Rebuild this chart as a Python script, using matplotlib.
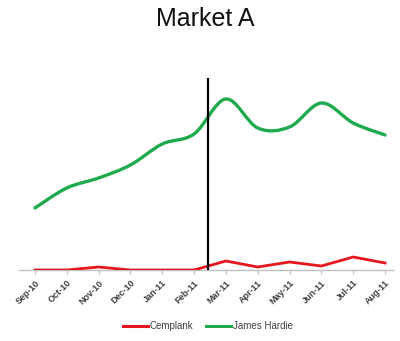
import matplotlib
matplotlib.use("Agg")
import matplotlib.pyplot as plt
from matplotlib.path import Path
from matplotlib.patches import PathPatch
from matplotlib.lines import Line2D
import numpy as np

plt.rcParams['font.family'] = ['Liberation Sans', 'DejaVu Sans']

months = ["Sep-10", "Oct-10", "Nov-10", "Dec-10", "Jan-11", "Feb-11",
          "Mar-11", "Apr-11", "May-11", "Jun-11", "Jul-11", "Aug-11"]
james_hardie = [62, 82, 92, 105, 126, 136, 171, 142, 143, 167, 147, 135]
cemplank = [0, 0, 3, 0, 0, 0, 9, 3, 8, 4, 13, 7]
event_x = 5.44

green = "#1faa4e"
red = "#e5161e"

fig = plt.figure(figsize=(4.0, 3.41), dpi=100)
ax = fig.add_axes([19/400, 1-270/341, (393-19)/400, (270-78)/341])
ax.set_xlim(-0.5, 11.25)
ax.set_ylim(0, 192)

def smooth_path(xs, ys):
    pts = np.column_stack([xs, ys]).astype(float)
    n = len(pts)
    verts = [pts[0]]
    codes = [Path.MOVETO]
    for i in range(n - 1):
        p0 = pts[i - 1] if i > 0 else pts[i]
        p1 = pts[i]
        p2 = pts[i + 1]
        p3 = pts[i + 2] if i + 2 < n else pts[i + 1]
        c1 = p1 + (p2 - p0) / 6.0
        c2 = p2 - (p3 - p1) / 6.0
        verts += [c1, c2, p2]
        codes += [Path.CURVE4] * 3
    return Path(verts, codes)

x = np.arange(len(months))
gp = PathPatch(smooth_path(x, james_hardie), facecolor='none', edgecolor=green,
               lw=2.4, transform=ax.transData, zorder=3, capstyle='round', joinstyle='round')
ax.add_patch(gp)
ax.plot(x, cemplank, color=red, lw=2.0, zorder=3, solid_joinstyle='round')

ax.axvline(event_x, color='black', lw=1.6, zorder=4)

for s in ['top', 'right', 'left']:
    ax.spines[s].set_visible(False)
ax.spines['bottom'].set_color('#c0c0c0')
ax.spines['bottom'].set_linewidth(1.0)
ax.set_yticks([])
ax.set_xticks(x)
ax.set_xticklabels(months, rotation=45, ha='right', rotation_mode='anchor',
                   fontsize=6.5, color='#404040', fontweight='bold')
ax.tick_params(axis='x', length=3, color='#c0c0c0', pad=3)

fig.text(0.5125, 1-19/341, "Market A", ha='center', va='center', fontsize=18, color='#111111')

handles = [Line2D([], [], color=red, lw=2.2), Line2D([], [], color=green, lw=2.2)]
fig.legend(handles, ["Cemplank", "James Hardie"], loc='center', bbox_to_anchor=(0.52, 1-326/341),
           ncol=2, frameon=False, fontsize=7, handlelength=2.6, handletextpad=0.15,
           columnspacing=1.3, labelcolor='#404040')

fig.savefig("out.png", dpi=100)
